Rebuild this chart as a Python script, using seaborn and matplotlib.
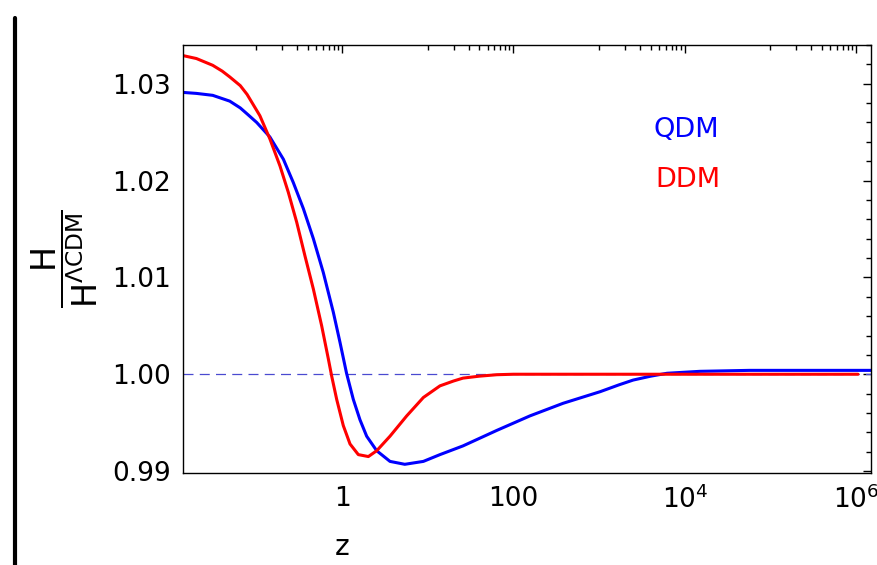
import numpy as np
import pandas as pd
import matplotlib
matplotlib.use("Agg")
import matplotlib.pyplot as plt
from matplotlib.lines import Line2D
from matplotlib.ticker import FixedLocator, NullFormatter
import seaborn as sns


# values (z on a log axis)
qdm_z = [0.014, 0.02, 0.031, 0.049, 0.065, 0.08, 0.101, 0.144, 0.207, 0.27,
         0.354, 0.463, 0.605, 0.792, 0.947, 1.13, 1.355, 1.62, 1.94, 2.54,
         3.63, 5.4, 8.9, 13.9, 25.8, 64, 156, 380, 1030, 1700, 2500, 4000,
         6200, 15000, 57000, 1.5e6]
qdm_h = [1.0291, 1.0290, 1.0288, 1.0282, 1.0275, 1.0268, 1.0260, 1.0245, 1.0222,
         1.0198, 1.0171, 1.0140, 1.0105, 1.0064, 1.0033, 1.0001, 0.9974, 0.9953,
         0.9936, 0.9921, 0.9910, 0.9907, 0.9910, 0.9917, 0.9926, 0.9942, 0.9957,
         0.9970, 0.9982, 0.9989, 0.9994, 0.9998, 1.0001, 1.0003, 1.0004, 1.0004]

ddm_z = [0.014, 0.02, 0.031, 0.04, 0.049, 0.065, 0.078, 0.11, 0.144, 0.189, 0.236,
         0.296, 0.37, 0.463, 0.579, 0.692, 0.758, 0.867, 1.035, 1.24, 1.55,
         2.03, 2.54, 3.63, 5.69, 8.9, 13.9, 20, 25.8, 40, 64, 100, 1.05e6]
ddm_h = [1.0329, 1.0326, 1.0319, 1.0313, 1.0307, 1.0298, 1.0289, 1.0267, 1.0243,
         1.0215, 1.0188, 1.0157, 1.0122, 1.0088, 1.0050, 1.0016, 0.9998, 0.9974,
         0.9947, 0.9928, 0.9917, 0.9915, 0.9921, 0.9936, 0.9957, 0.9976, 0.9988,
         0.9993, 0.9996, 0.9998, 0.99995, 1.0000, 1.0000]

x_ticks = [1, 100, 1e4, 1e6]
x_tick_labels = ["1", "100", r"$10^4$", r"$10^6$"]
y_ticks = [0.99, 1.00, 1.01, 1.02, 1.03]
y_tick_labels = ["0.99", "1.00", "1.01", "1.02", "1.03"]

df = pd.concat([
    pd.DataFrame({"z": qdm_z, "ratio": qdm_h, "model": "QDM"}),
    pd.DataFrame({"z": ddm_z, "ratio": ddm_h, "model": "DDM"}),
])

sns.set_style("white")
plt.rcParams["font.family"] = ["DejaVu Sans"]
plt.rcParams["mathtext.fontset"] = "dejavusans"

fig = plt.figure(figsize=(8.77, 5.65), dpi=100)
ax = fig.add_axes([0.2087, 0.1628, 0.9932 - 0.2087, 0.9204 - 0.1628])

colors = {"QDM": "#0000ff", "DDM": "#ff0000"}
sns.lineplot(data=df, x="z", y="ratio", hue="model", palette=colors,
             estimator=None, sort=True, linewidth=2.2, legend=False, ax=ax)
ax.axhline(1.0, color="#4a4ad0", linewidth=0.9, linestyle=(0, (8, 5)), zorder=1)

ax.set_xscale("log")
ax.set_xlim(0.01396, 1.49e6)
ax.set_ylim(0.9898, 1.0340)

# major ticks every two decades, minor ticks on the odd decades
minor = [k * 10.0 ** e for e in (-1, 1, 3, 5) for k in range(1, 10)]
ax.xaxis.set_minor_locator(FixedLocator(minor))
ax.xaxis.set_minor_formatter(NullFormatter())
ax.set_xticks(x_ticks)
ax.set_xticklabels(x_tick_labels)
ax.set_yticks(y_ticks)
ax.set_yticklabels(y_tick_labels)
ax.yaxis.set_minor_locator(FixedLocator(np.arange(0.990, 1.0341, 0.002)))
ax.yaxis.set_minor_formatter(NullFormatter())

ax.tick_params(which="both", direction="in", top=True, right=True,
               labelsize=19, color="black", labelcolor="black", width=1.0)
ax.tick_params(which="major", length=6, pad=9)
ax.tick_params(which="minor", length=3.5)
for s in ax.spines.values():
    s.set_color("black")
    s.set_linewidth(1.0)

ax.text(0.731, 0.801, "QDM", color="#0000ff", fontsize=19.5,
        ha="center", va="center", transform=ax.transAxes)
ax.text(0.734, 0.685, "DDM", color="#ff0000", fontsize=19.5,
        ha="center", va="center", transform=ax.transAxes)

ax.set_xlabel("z", fontsize=20, color="black")
ax.xaxis.set_label_coords(0.231, -0.14)
ax.set_ylabel(r"$\dfrac{\mathrm{H}}{\mathrm{H}^{\Lambda\mathrm{CDM}}}$",
              fontsize=24, color="black")
ax.yaxis.set_label_coords(-0.12, 0.5)

# thick bar on the far left of the original picture
fig.add_artist(Line2D([15 / 877, 15 / 877], [0, 1 - 18 / 565],
                      color="black", linewidth=3, transform=fig.transFigure))

fig.savefig("out.png", dpi=100)
